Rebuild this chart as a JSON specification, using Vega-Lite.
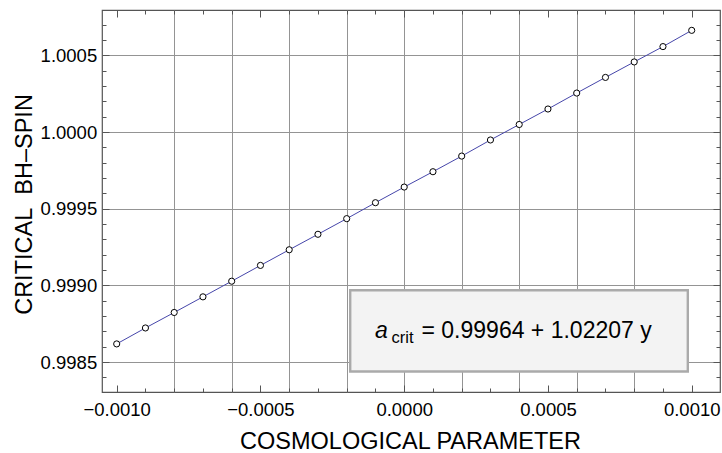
{
  "$schema": "https://vega.github.io/schema/vega-lite/v6.json",
  "width": 618,
  "height": 382,
  "autosize": {"type": "none"},
  "padding": {"left": 102, "top": 10, "right": 2, "bottom": 61},
  "background": "white",
  "config": {
    "view": {"stroke": "#555555", "strokeWidth": 1.2},
    "font": "Liberation Sans",
    "axis": {"labelFont": "Liberation Sans", "titleFont": "Liberation Sans"}
  },
  "data": {
    "values": [
      {"param": -0.0010, "spin": 0.998618},
      {"param": -0.0009, "spin": 0.998722},
      {"param": -0.0008, "spin": 0.998823},
      {"param": -0.0007, "spin": 0.998925},
      {"param": -0.0006, "spin": 0.999027},
      {"param": -0.0005, "spin": 0.999130},
      {"param": -0.0004, "spin": 0.999232},
      {"param": -0.0003, "spin": 0.999333},
      {"param": -0.0002, "spin": 0.999435},
      {"param": -0.0001, "spin": 0.999539},
      {"param": 0.0000, "spin": 0.999641},
      {"param": 0.0001, "spin": 0.999741},
      {"param": 0.0002, "spin": 0.999843},
      {"param": 0.0003, "spin": 0.999948},
      {"param": 0.0004, "spin": 1.000049},
      {"param": 0.0005, "spin": 1.000150},
      {"param": 0.0006, "spin": 1.000254},
      {"param": 0.0007, "spin": 1.000356},
      {"param": 0.0008, "spin": 1.000457},
      {"param": 0.0009, "spin": 1.000557},
      {"param": 0.0010, "spin": 1.000663}
    ]
  },
  "resolve": {"axis": {"x": "independent", "y": "independent"}},
  "layer": [
    {
      "mark": {"type": "line", "color": "#4646aa", "strokeWidth": 1},
      "encoding": {
        "x": {"field": "param", "type": "quantitative",
          "scale": {"domain": [-0.0010511, 0.0010984], "nice": false, "zero": false},
          "axis": {"orient": "bottom", "values": [-0.0008, -0.0006, -0.0004, -0.0002, 0, 0.0002, 0.0004, 0.0006, 0.0008],
            "grid": true, "gridColor": "#949494", "gridWidth": 1, "gridOpacity": 1,
            "ticks": false, "labels": false, "domain": false, "title": null, "zindex": 0}},
        "y": {"field": "spin", "type": "quantitative",
          "scale": {"domain": [0.9983044, 1.0007957], "nice": false, "zero": false},
          "axis": {"orient": "left", "values": [0.9985, 0.999, 0.9995, 1, 1.0005],
            "grid": true, "gridColor": "#949494", "gridWidth": 1, "gridOpacity": 1,
            "ticks": false, "labels": false, "domain": false, "title": null, "zindex": 0}}
      }
    },
    {
      "mark": {"type": "point", "shape": "circle", "filled": true, "fill": "white", "stroke": "black", "strokeWidth": 1, "size": 38, "opacity": 1},
      "encoding": {
        "x": {"field": "param", "type": "quantitative",
          "scale": {"domain": [-0.0010511, 0.0010984], "nice": false, "zero": false},
          "axis": {"orient": "bottom", "values": [-0.001, -0.0005, 0, 0.0005, 0.001], "format": ".4f",
            "grid": false, "ticks": false, "domain": false,
            "labelFontSize": 18.5, "labelColor": "black", "labelPadding": 23.5, "labelBaseline": "alphabetic",
            "labelFlush": false, "labelOverlap": false,
            "title": "COSMOLOGICAL PARAMETER", "titleFontSize": 23.5, "titleFontWeight": "normal", "titleColor": "black",
            "titleX": 308, "titleY": 56, "titleBaseline": "alphabetic", "titleAlign": "center", "zindex": 1}},
        "y": {"field": "spin", "type": "quantitative",
          "scale": {"domain": [0.9983044, 1.0007957], "nice": false, "zero": false},
          "axis": {"orient": "left", "values": [0.9985, 0.999, 0.9995, 1, 1.0005], "format": ".4f",
            "grid": false, "ticks": false, "domain": false,
            "labelFontSize": 18.5, "labelColor": "black", "labelPadding": 5.3, "labelOverlap": false, "labelFlush": false,
            "title": "CRITICAL\u00a0 BH–SPIN", "titleFontSize": 23.5, "titleFontWeight": "normal", "titleColor": "black",
            "titleX": -71, "titleY": 194, "titleAngle": -90, "titleBaseline": "alphabetic", "titleAlign": "center", "zindex": 1}}
      }
    },
    {
      "mark": {"type": "point", "opacity": 0},
      "encoding": {
        "x": {"field": "param", "type": "quantitative",
          "scale": {"domain": [-0.0010511, 0.0010984], "nice": false, "zero": false},
          "axis": {"orient": "bottom", "values": [-0.001, -0.0009, -0.0008, -0.0007, -0.0006, -0.0005, -0.0004, -0.0003, -0.0002, -0.0001, 0, 0.0001, 0.0002, 0.0003, 0.0004, 0.0005, 0.0006, 0.0007, 0.0008, 0.0009, 0.001],
            "grid": false, "ticks": true, "tickSize": -4, "tickColor": "#555555", "tickWidth": 1, "labels": false, "domain": false, "title": null, "zindex": 1}},
        "y": {"field": "spin", "type": "quantitative",
          "scale": {"domain": [0.9983044, 1.0007957], "nice": false, "zero": false},
          "axis": {"orient": "left", "values": [0.9984, 0.9985, 0.9986, 0.9987, 0.9988, 0.9989, 0.999, 0.9991, 0.9992, 0.9993, 0.9994, 0.9995, 0.9996, 0.9997, 0.9998, 0.9999, 1, 1.0001, 1.0002, 1.0003, 1.0004, 1.0005, 1.0006, 1.0007],
            "grid": false, "ticks": true, "tickSize": -4, "tickColor": "#555555", "tickWidth": 1, "labels": false, "domain": false, "title": null, "zindex": 1}}
      }
    },
    {
      "mark": {"type": "point", "opacity": 0},
      "encoding": {
        "x": {"field": "param", "type": "quantitative",
          "scale": {"domain": [-0.0010511, 0.0010984], "nice": false, "zero": false},
          "axis": {"orient": "bottom", "values": [-0.001, -0.0005, 0, 0.0005, 0.001],
            "grid": false, "ticks": true, "tickSize": -7, "tickColor": "#555555", "tickWidth": 1, "labels": false, "domain": false, "title": null, "zindex": 1}},
        "y": {"field": "spin", "type": "quantitative",
          "scale": {"domain": [0.9983044, 1.0007957], "nice": false, "zero": false},
          "axis": {"orient": "left", "values": [0.9985, 0.999, 0.9995, 1, 1.0005],
            "grid": false, "ticks": true, "tickSize": -7, "tickColor": "#555555", "tickWidth": 1, "labels": false, "domain": false, "title": null, "zindex": 1}}
      }
    },
    {
      "mark": {"type": "point", "opacity": 0},
      "encoding": {
        "x": {"field": "param", "type": "quantitative",
          "scale": {"domain": [-0.0010511, 0.0010984], "nice": false, "zero": false},
          "axis": {"orient": "top", "values": [-0.001, -0.0009, -0.0008, -0.0007, -0.0006, -0.0005, -0.0004, -0.0003, -0.0002, -0.0001, 0, 0.0001, 0.0002, 0.0003, 0.0004, 0.0005, 0.0006, 0.0007, 0.0008, 0.0009, 0.001],
            "grid": false, "ticks": true, "tickSize": -4, "tickColor": "#555555", "tickWidth": 1, "labels": false, "domain": false, "title": null, "zindex": 1}},
        "y": {"field": "spin", "type": "quantitative",
          "scale": {"domain": [0.9983044, 1.0007957], "nice": false, "zero": false},
          "axis": {"orient": "right", "values": [0.9984, 0.9985, 0.9986, 0.9987, 0.9988, 0.9989, 0.999, 0.9991, 0.9992, 0.9993, 0.9994, 0.9995, 0.9996, 0.9997, 0.9998, 0.9999, 1, 1.0001, 1.0002, 1.0003, 1.0004, 1.0005, 1.0006, 1.0007],
            "grid": false, "ticks": true, "tickSize": -4, "tickColor": "#555555", "tickWidth": 1, "labels": false, "domain": false, "title": null, "zindex": 1}}
      }
    },
    {
      "mark": {"type": "point", "opacity": 0},
      "encoding": {
        "x": {"field": "param", "type": "quantitative",
          "scale": {"domain": [-0.0010511, 0.0010984], "nice": false, "zero": false},
          "axis": {"orient": "top", "values": [-0.001, -0.0005, 0, 0.0005, 0.001],
            "grid": false, "ticks": true, "tickSize": -7, "tickColor": "#555555", "tickWidth": 1, "labels": false, "domain": false, "title": null, "zindex": 1}},
        "y": {"field": "spin", "type": "quantitative",
          "scale": {"domain": [0.9983044, 1.0007957], "nice": false, "zero": false},
          "axis": {"orient": "right", "values": [0.9985, 0.999, 0.9995, 1, 1.0005],
            "grid": false, "ticks": true, "tickSize": -7, "tickColor": "#555555", "tickWidth": 1, "labels": false, "domain": false, "title": null, "zindex": 1}}
      }
    },
    {
      "data": {"values": [{}]},
      "mark": {"type": "rect", "fill": "#f3f3f3", "stroke": "#aaaaaa", "strokeWidth": 2.4},
      "encoding": {
        "x": {"datum": -0.0001878, "type": "quantitative", "scale": {"domain": [-0.0010511, 0.0010984], "nice": false, "zero": false}, "axis": null},
        "x2": {"datum": 0.0009864},
        "y": {"datum": 0.9989683, "type": "quantitative", "scale": {"domain": [0.9983044, 1.0007957], "nice": false, "zero": false}, "axis": null},
        "y2": {"datum": 0.998438}
      }
    },
    {
      "data": {"values": [{}]},
      "mark": {"type": "text", "text": "a", "font": "Liberation Sans", "fontStyle": "italic", "fontSize": 23, "align": "left", "baseline": "alphabetic", "color": "black"},
      "encoding": {
        "x": {"datum": -0.0001016, "type": "quantitative", "scale": {"domain": [-0.0010511, 0.0010984], "nice": false, "zero": false}, "axis": null},
        "y": {"datum": 0.9986546, "type": "quantitative", "scale": {"domain": [0.9983044, 1.0007957], "nice": false, "zero": false}, "axis": null}
      }
    },
    {
      "data": {"values": [{}]},
      "mark": {"type": "text", "text": "crit", "font": "Liberation Sans", "fontSize": 16.5, "align": "left", "baseline": "alphabetic", "color": "black"},
      "encoding": {
        "x": {"datum": -0.0000442, "type": "quantitative", "scale": {"domain": [-0.0010511, 0.0010984], "nice": false, "zero": false}, "axis": null},
        "y": {"datum": 0.9986252, "type": "quantitative", "scale": {"domain": [0.9983044, 1.0007957], "nice": false, "zero": false}, "axis": null}
      }
    },
    {
      "data": {"values": [{}]},
      "mark": {"type": "text", "text": "= 0.99964 + 1.02207 y", "font": "Liberation Sans", "fontSize": 23, "align": "left", "baseline": "alphabetic", "color": "black"},
      "encoding": {
        "x": {"datum": 0.0000602, "type": "quantitative", "scale": {"domain": [-0.0010511, 0.0010984], "nice": false, "zero": false}, "axis": null},
        "y": {"datum": 0.9986546, "type": "quantitative", "scale": {"domain": [0.9983044, 1.0007957], "nice": false, "zero": false}, "axis": null}
      }
    }
  ]
}
